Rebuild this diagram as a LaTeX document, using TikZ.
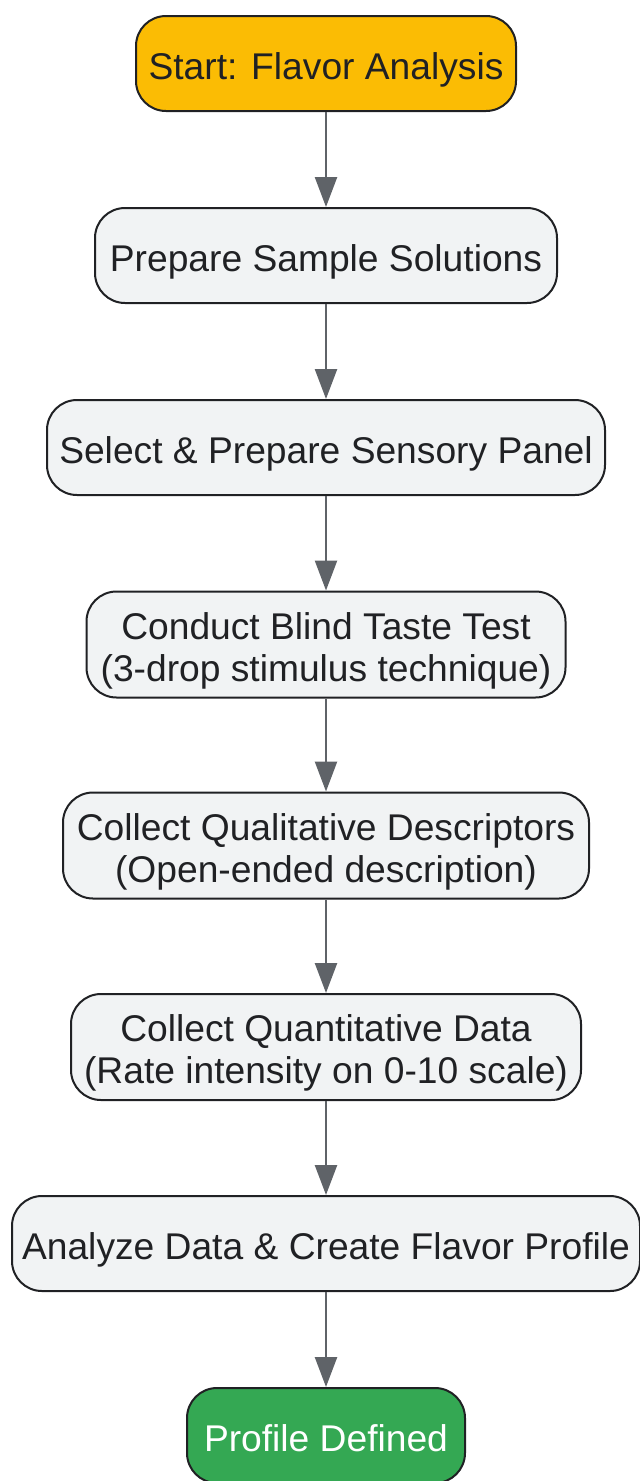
\documentclass[tikz,border=0pt]{standalone}
\usepackage{fontspec}
\setmainfont{Liberation Sans}
\usetikzlibrary{arrows.meta}
\definecolor{startc}{HTML}{FBBC04}
\definecolor{endc}{HTML}{34A853}
\definecolor{boxc}{HTML}{F1F3F4}
\definecolor{linec}{HTML}{202124}
\definecolor{arrowc}{HTML}{5F6368}
\tikzset{
  stepbox/.style={draw=linec, line width=2pt, rounded corners=30pt, fill=boxc,
    text=linec, align=center, inner sep=0pt, minimum height=95pt,
    text height=31.5pt, text depth=0pt,
    font=\fontsize{37.2}{42}\selectfont},
  twoline/.style={minimum height=106pt, text height=73.5pt},
  flow/.style={draw=arrowc, line width=2.5pt, -{Triangle[length=30pt,width=22pt]}}
}
\begin{document}
\begin{tikzpicture}[x=1pt,y=-1pt]
\useasboundingbox (0,0) rectangle (640,1481);
\node[stepbox, fill=startc, minimum width=380pt] (n1) at (326,63.5) {Start: Flavor Analysis};
\node[stepbox, minimum width=462pt] (n2) at (326,255.5) {Prepare Sample Solutions};
\node[stepbox, minimum width=558pt] (n3) at (326,447.5) {Select \& Prepare Sensory Panel};
\node[stepbox, twoline, minimum width=479pt] (n4) at (326,644.5) {Conduct Blind Taste Test\\(3-drop stimulus technique)};
\node[stepbox, twoline, minimum width=526pt] (n5) at (326,845.5) {Collect Qualitative Descriptors\\(Open-ended description)};
\node[stepbox, twoline, minimum width=510pt] (n6) at (326,1047) {Collect Quantitative Data\\(Rate intensity on 0-10 scale)};
\node[stepbox, minimum width=628pt] (n7) at (326,1243.5) {Analyze Data \& Create Flavor Profile};
\node[stepbox, fill=endc, text=white, minimum width=278pt] (n8) at (326,1435.5) {Profile Defined};
\draw[flow] (n1) -- (n2);
\draw[flow] (n2) -- (n3);
\draw[flow] (n3) -- (n4);
\draw[flow] (n4) -- (n5);
\draw[flow] (n5) -- (n6);
\draw[flow] (n6) -- (n7);
\draw[flow] (n7) -- (n8);
\end{tikzpicture}
\end{document}
